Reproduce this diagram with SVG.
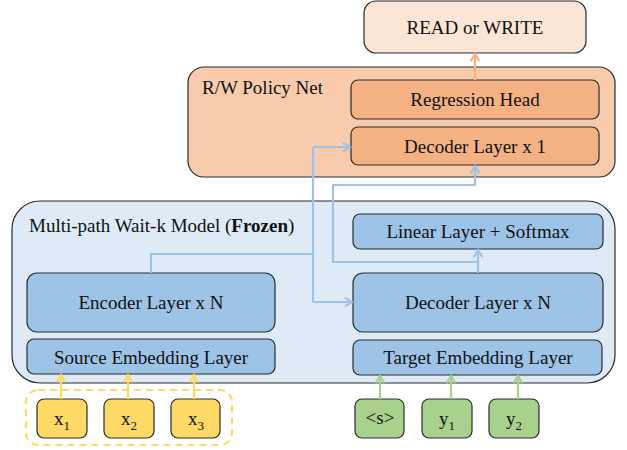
<svg xmlns="http://www.w3.org/2000/svg" width="627" height="450" viewBox="0 0 627 450">
<defs>
<style>
text{font-family:"Liberation Serif","Times New Roman",serif;font-size:19px;fill:#111;text-anchor:middle}
.t{text-anchor:start}
.box{stroke:#2b2b2b;stroke-width:1.2}
.blue{fill:#9dc3e6}
.or{fill:#f4b183}
.yel{fill:#ffd966}
.grn{fill:#a9d18e}
.cb{fill:none;stroke:#9dc3e6;stroke-width:2.2}
.co{fill:none;stroke:#f4b183;stroke-width:2.2}
.cy{fill:none;stroke:#ffd966;stroke-width:2.2}
.cg{fill:none;stroke:#a9d18e;stroke-width:2.2}
.sub{font-size:13px}
</style>
<marker id="ab" viewBox="0 0 10 10" refX="8.5" refY="5" markerWidth="11" markerHeight="11" markerUnits="userSpaceOnUse" orient="auto"><path d="M2,1 L8.5,5 L2,9" fill="none" stroke="#9dc3e6" stroke-width="2"/></marker>
<marker id="ao" viewBox="0 0 10 10" refX="8.5" refY="5" markerWidth="11" markerHeight="11" markerUnits="userSpaceOnUse" orient="auto"><path d="M2,1 L8.5,5 L2,9" fill="none" stroke="#f4b183" stroke-width="2"/></marker>
<marker id="ay" viewBox="0 0 10 10" refX="8.5" refY="5" markerWidth="11" markerHeight="11" markerUnits="userSpaceOnUse" orient="auto"><path d="M2,1 L8.5,5 L2,9" fill="none" stroke="#ffd966" stroke-width="2"/></marker>
<marker id="ag" viewBox="0 0 10 10" refX="8.5" refY="5" markerWidth="11" markerHeight="11" markerUnits="userSpaceOnUse" orient="auto"><path d="M2,1 L8.5,5 L2,9" fill="none" stroke="#a9d18e" stroke-width="2"/></marker>
</defs>
<rect width="627" height="450" fill="#ffffff"/>

<g id="output">
<rect class="box" x="364" y="1" width="222" height="52" rx="12" fill="#fbe5d6"/>
<text x="475" y="33.5">READ or WRITE</text>
</g>

<g id="policy-net">
<rect class="box" x="188" y="67" width="427" height="110" rx="16" fill="#f8cbad"/>
<text class="t" x="202" y="94">R/W Policy Net</text>
</g>
<g id="regression-head">
<rect class="box or" x="351" y="80" width="248" height="39" rx="7"/>
<text x="475" y="106">Regression Head</text>
</g>
<g id="policy-decoder">
<rect class="box or" x="351" y="127" width="248" height="38" rx="7"/>
<text x="475" y="152.5">Decoder Layer x 1</text>
</g>

<g id="frozen-model">
<rect class="box" x="12" y="201" width="603" height="182" rx="28" fill="#deebf7"/>
<text class="t" x="29" y="232">Multi-path Wait-k Model (<tspan font-weight="bold">Frozen</tspan>)</text>
</g>
<g id="linear-softmax">
<rect class="box blue" x="353" y="214" width="250" height="35" rx="7"/>
<text x="478" y="238">Linear Layer + Softmax</text>
</g>
<g id="encoder">
<rect class="box blue" x="27" y="273" width="248" height="59" rx="10"/>
<text x="151" y="309">Encoder Layer x N</text>
</g>
<g id="decoder">
<rect class="box blue" x="353" y="273" width="250" height="59" rx="10"/>
<text x="478" y="309">Decoder Layer x N</text>
</g>
<g id="source-embedding">
<rect class="box blue" x="27" y="339" width="248" height="35" rx="7"/>
<text x="151" y="363.5">Source Embedding Layer</text>
</g>
<g id="target-embedding">
<rect class="box blue" x="353" y="340" width="249" height="35" rx="7"/>
<text x="478" y="364">Target Embedding Layer</text>
</g>

<g id="source-group">
<rect x="26" y="390" width="206" height="55" rx="12" fill="none" stroke="#ffd966" stroke-width="2.2" stroke-dasharray="7,5"/>
</g>
<g id="x1">
<rect class="box yel" x="37" y="399" width="50" height="39" rx="7"/>
<text x="62" y="425">x<tspan class="sub" dy="5">1</tspan></text>
</g>
<g id="x2">
<rect class="box yel" x="104" y="399" width="50" height="39" rx="7"/>
<text x="129" y="425">x<tspan class="sub" dy="5">2</tspan></text>
</g>
<g id="x3">
<rect class="box yel" x="171" y="399" width="49" height="39" rx="7"/>
<text x="196" y="425">x<tspan class="sub" dy="5">3</tspan></text>
</g>
<g id="s-token">
<rect class="box grn" x="355" y="399" width="49" height="39" rx="7"/>
<text x="380" y="424">&lt;s&gt;</text>
</g>
<g id="y1">
<rect class="box grn" x="422" y="399" width="50" height="39" rx="7"/>
<text x="447" y="425">y<tspan class="sub" dy="5">1</tspan></text>
</g>
<g id="y2">
<rect class="box grn" x="489" y="399" width="50" height="39" rx="7"/>
<text x="514" y="425">y<tspan class="sub" dy="5">2</tspan></text>
</g>

<g id="connectors">
<path class="co" d="M475,80 V54" marker-end="url(#ao)"/>
<path class="cb" d="M151,273 V254 H313"/>
<path class="cb" d="M313,147 V302"/>
<path class="cb" d="M313,147 H350" marker-end="url(#ab)"/>
<path class="cb" d="M313,302 H352" marker-end="url(#ab)"/>
<path class="cb" d="M478,273 V250" marker-end="url(#ab)"/>
<path class="cb" d="M478,262 H333 V185 H475 V166" marker-end="url(#ab)"/>
<path class="cy" d="M61,399 V375" marker-end="url(#ay)"/>
<path class="cy" d="M128,399 V375" marker-end="url(#ay)"/>
<path class="cy" d="M194,399 V375" marker-end="url(#ay)"/>
<path class="cg" d="M380,399 V376" marker-end="url(#ag)"/>
<path class="cg" d="M451,399 V376" marker-end="url(#ag)"/>
<path class="cg" d="M518,399 V376" marker-end="url(#ag)"/>
</g>
</svg>
